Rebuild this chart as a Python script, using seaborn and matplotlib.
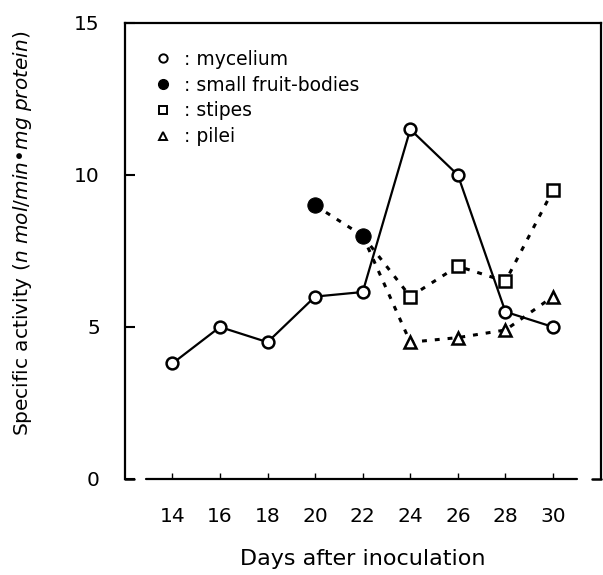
import matplotlib
matplotlib.use('Agg')
import matplotlib.pyplot as plt
import seaborn as sns
import pandas as pd
from matplotlib.lines import Line2D

# values
days = [14, 16, 18, 20, 22, 24, 26, 28, 30]
mycelium = [3.8, 5.0, 4.5, 6.0, 6.15, 11.5, 10.0, 5.5, 5.0]
fruit_days = [20, 22]
fruit_bodies = [9.0, 8.0]
part_days = [24, 26, 28, 30]
stipes = [6.0, 7.0, 6.5, 9.5]
pilei = [4.5, 4.65, 4.9, 6.0]
x_ticks = [14, 16, 18, 20, 22, 24, 26, 28, 30]
y_ticks = [0, 5, 10, 15]

sns.set_style('ticks')
plt.rcParams['font.family'] = ['DejaVu Sans']
plt.rcParams['mathtext.fontset'] = 'dejavusans'
for key in ['text.color', 'axes.labelcolor', 'xtick.color', 'ytick.color', 'axes.edgecolor']:
    plt.rcParams[key] = 'black'

fig = plt.figure(figsize=(6.03, 5.75), dpi=100)
ax = fig.add_axes([0.207, 0.167, 0.789, 0.793])

dot = (0, (1.6, 2.6))

# dotted connectors: fruit-bodies continue into stipes and pilei
stipe_df = pd.DataFrame({'x': fruit_days[-1:] + part_days, 'y': fruit_bodies[-1:] + stipes})
pilei_df = pd.DataFrame({'x': fruit_days[-1:] + part_days, 'y': fruit_bodies[-1:] + pilei})
fruit_df = pd.DataFrame({'x': fruit_days, 'y': fruit_bodies})
myc_df = pd.DataFrame({'x': days, 'y': mycelium})

sns.lineplot(data=stipe_df, x='x', y='y', ax=ax, color='black', lw=2.2, linestyle=dot,
             marker='s', markersize=9, markerfacecolor='white', markeredgecolor='black',
             markeredgewidth=1.8, markevery=[1, 2, 3, 4], zorder=3)
sns.lineplot(data=pilei_df, x='x', y='y', ax=ax, color='black', lw=2.2, linestyle=dot,
             marker='^', markersize=9, markerfacecolor='white', markeredgecolor='black',
             markeredgewidth=1.8, markevery=[1, 2, 3, 4], zorder=3)
sns.lineplot(data=fruit_df, x='x', y='y', ax=ax, color='black', lw=2.2, linestyle=dot,
             marker='o', markersize=11, markerfacecolor='black', markeredgecolor='black',
             zorder=4)
sns.lineplot(data=myc_df, x='x', y='y', ax=ax, color='black', lw=1.6,
             marker='o', markersize=8.5, markerfacecolor='white', markeredgecolor='black',
             markeredgewidth=1.8, zorder=5)

ax.set_xlim(12, 32)
ax.set_ylim(0, 15)
ax.set_xticks(x_ticks)
ax.set_yticks(y_ticks)
ax.tick_params(axis='x', direction='in', length=4, width=1, pad=20, labelsize=14.5)
ax.tick_params(axis='y', direction='in', length=7, width=1.5, pad=18, labelsize=14.5)

for s in ['left', 'right', 'top']:
    ax.spines[s].set_linewidth(1.6)
    ax.spines[s].set_color('black')
ax.spines['bottom'].set_visible(False)
# x axis line and small corner stubs
ax.axhline(0, xmin=0.044, xmax=0.95, color='black', lw=1.6, clip_on=False)
ax.plot([0, 0.02], [0, 0], transform=ax.transAxes, color='black', lw=1.8, clip_on=False)
ax.plot([0.983, 1], [0, 0], transform=ax.transAxes, color='black', lw=1.8, clip_on=False)

ax.set_xlabel('Days after inoculation', fontsize=16, labelpad=17)
ax.set_ylabel('')
fig.text(0.038, 0.595, 'Specific activity ($\\it{n}$ $\\it{mol/min}$\u2022$\\it{mg}$ $\\it{protein}$)',
         rotation=90, ha='center', va='center', fontsize=14.5)

handles = [
    Line2D([], [], ls='none', marker='o', ms=6, mfc='white', mec='black', mew=1.4),
    Line2D([], [], ls='none', marker='o', ms=7, mfc='black', mec='black'),
    Line2D([], [], ls='none', marker='s', ms=6, mfc='white', mec='black', mew=1.4),
    Line2D([], [], ls='none', marker='^', ms=6, mfc='white', mec='black', mew=1.4),
]
labels = [': mycelium', ': small fruit-bodies', ': stipes', ': pilei']
ax.legend(handles, labels, loc='upper left', bbox_to_anchor=(0.03, 0.978), frameon=False,
          fontsize=13.5, handlelength=0.8, handletextpad=0.7, labelspacing=0.36)

fig.savefig('out.png', dpi=100)
